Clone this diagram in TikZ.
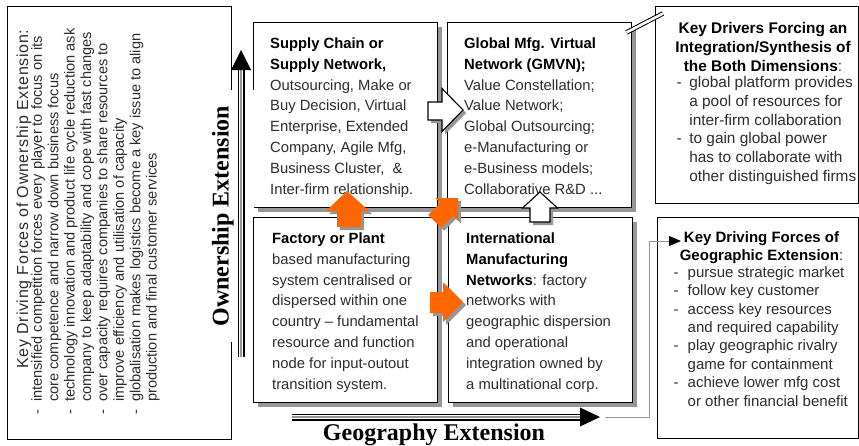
\documentclass[tikz,border=0pt]{standalone}
\usepackage{fontspec}
\setmainfont{Liberation Sans}
\newfontfamily\serifbold{Liberation Serif}
\usetikzlibrary{shadows,arrows.meta,calc}
\definecolor{orng}{RGB}{255,102,0}
\definecolor{txt}{RGB}{45,45,45}
\definecolor{shd}{RGB}{150,150,150}
\newcommand\boxhead[1]{{\color{black}\bfseries #1}}
\begin{document}
\begin{tikzpicture}[x=1pt,y=-1pt,
  mainbox/.style={draw=black, line width=1.4pt, fill=white, inner sep=0pt, anchor=north west,
    minimum width=184pt, minimum height=185pt,
    drop shadow={shadow xshift=4.5pt, shadow yshift=-4.5pt, fill=shd, opacity=1}},
  sidebox/.style={draw=black, line width=1.1pt, fill=white, inner sep=0pt, anchor=north west},
  mtext/.style={align=left, inner sep=0pt, anchor=north west, text=txt,
    font=\fontsize{14.8}{20.8}\selectfont},
  bigtitle/.style={font=\serifbold\bfseries\fontsize{24}{28}\selectfont, text=black},
  shaftblack/.style={line width=7pt, black},
  shaftwhite/.style={line width=4pt, white},
  shaftgray/.style={line width=2.2pt, shd},
  blockw/.style={draw=black, line width=1.1pt, fill=white, line join=miter},
  blocko/.style={fill=orng},
  bshadow/.style={fill=shd, shift={(3,3)}},
  link/.style={draw=shd, line width=0.8pt},
]
\fill[white] (0,0) rectangle (859,445);
\useasboundingbox (0,0) rectangle (859,445);

% ---------- left box ----------
\node[sidebox, minimum width=224pt, minimum height=433pt] (lb) at (7,6) {};
\node[rotate=90, text=txt, inner sep=0pt,
  font=\fontsize{16}{18}\selectfont\addfontfeatures{LetterSpace=4.5}] (lbt) at (24,199)
  {Key Driving Forces of Ownership Extension:};
\node[rotate=90, anchor=north west, inner sep=0pt, text=txt,
  font=\fontsize{14.6}{16.4}\selectfont] (lbb) at (30.2,415)
  {\begin{tabular}{@{}l@{\hspace{8pt}}l@{}}
   - & intensified competition forces every player to focus on its\\
     & core competence and narrow down business focus\\
   - & technology innovation and product life cycle reduction ask\\
     & company to keep adaptability and cope with fast changes\\
   - & over capacity requires companies to share resources to\\
     & improve efficiency and utilisation of capacity\\
   - & globalisation makes logistics become a key issue to align\\
     & production and final customer services
   \end{tabular}};

% ---------- top main boxes ----------
\node[mainbox] (sc) at (253,22) {};
\node[mainbox] (gm) at (447,22) {};

% ---------- ownership label (white ground hides borders) ----------
\node[rotate=90, anchor=base, bigtitle, fill=white, inner xsep=16pt, inner ysep=20.8pt] (own)
  at (228.5,216) {Ownership Extension};

% ---------- bottom main boxes ----------
\node[mainbox] (fp) at (253,217) {};
\node[mainbox] (im) at (448,217) {};

% ---------- texts of main boxes ----------
\node[mtext] (sct) at (270,37.5) {\boxhead{Supply Chain or}\\\boxhead{Supply Network,}\\
  Outsourcing, Make or\\Buy Decision, Virtual\\Enterprise, Extended\\Company, Agile Mfg,\\
  Business Cluster,~ \&\\Inter-firm relationship.};
\node[mtext] (gmt) at (464,37.5) {\boxhead{Global Mfg. Virtual}\\\boxhead{Network (GMVN);}\\
  Value Constellation;\\Value Network;\\Global Outsourcing;\\e-Manufacturing or\\
  e-Business models;\\Collaborative R\&D ...};
\node[mtext] (fpt) at (272,232.5) {\boxhead{Factory or Plant}\\based manufacturing\\
  system centralised or\\dispersed within one\\country – fundamental\\resource and function\\
  node for input-outout\\transition system.};
\node[mtext] (imt) at (466,232.5) {\boxhead{International}\\\boxhead{Manufacturing}\\
  \boxhead{Networks}: factory\\networks with\\geographic dispersion\\and operational\\
  integration owned by\\a multinational corp.};

% ---------- right boxes ----------
\node[sidebox, minimum width=203pt, minimum height=197pt] (kd) at (655,6) {};
\node[sidebox, minimum width=201pt, minimum height=221pt] (kg) at (657,217) {};

\node[anchor=north, align=center, inner sep=0pt, text=txt,
  font=\fontsize{15.4}{18.8}\selectfont] (kdt) at (763,22.2)
  {\boxhead{Key Drivers Forcing an}\\\boxhead{Integration/Synthesis of}\\\boxhead{the Both Dimensions}:};
\node[anchor=north west, inner sep=0pt, text=txt, font=\fontsize{15.4}{18.8}\selectfont] (kdl)
  at (676.5,74.2)
  {\begin{tabular}{@{}l@{\hspace{7.5pt}}l@{}}
   - & global platform provides\\
     & a pool of resources for\\
     & inter-firm collaboration\\
   - & to gain global power\\
     & has to collaborate with\\
     & other distinguished firms
   \end{tabular}};

\node[anchor=north, align=center, inner sep=0pt, text=txt,
  font=\fontsize{15}{18.4}\selectfont] (kgt) at (761.5,231.2)
  {\boxhead{Key Driving Forces of}\\\boxhead{Geographic Extension}:};
\node[anchor=north west, inner sep=0pt, text=txt, font=\fontsize{15}{18.4}\selectfont] (kgl)
  at (673.5,264.2)
  {\begin{tabular}{@{}l@{\hspace{9pt}}l@{}}
   - & pursue strategic market\\
   - & follow key customer\\
   - & access key resources\\
     & and required capability\\
   - & play geographic rivalry\\
     & game for containment\\
   - & achieve lower mfg cost\\
     & or other financial benefit
   \end{tabular}};

% ---------- break mark between GMVN box and key drivers box ----------
\coordinate (brkA) at ($(gm.north east)+(-6,10.5)$);
\coordinate (brkB) at ($(kd.north west)+(8,7.5)$);
\draw[double=white, double distance=2.6pt, line width=1pt] (brkA) -- (brkB);

% ---------- ownership arrow ----------
\coordinate (ownTail) at (241,357);
\coordinate (ownTip) at (241,50);
\draw[shaftblack] (ownTail) -- ($(ownTip)+(0,19)$);
\draw[shaftwhite] (ownTail) -- ($(ownTip)+(0,19)$);
\draw[shaftgray] (ownTail) -- ($(ownTip)+(0,19)$);
\fill[black] (ownTip) -- ++(-10,20) -- ++(20,0) -- cycle;

% ---------- geography arrow ----------
\node[bigtitle, anchor=base, inner sep=0pt] (geo) at (434,440) {Geography Extension};
\coordinate (geoTail) at (292,417);
\coordinate (geoTip) at (600,417);
\draw[shaftblack] (geoTail) -- ($(geoTip)+(-19,0)$);
\draw[shaftwhite] (geoTail) -- ($(geoTip)+(-19,0)$);
\draw[shaftgray] (geoTail) -- ($(geoTip)+(-19,0)$);
\fill[black] (geoTip) -- ++(-20,-9.5) -- ++(0,19) -- cycle;

% ---------- link to geographic forces box ----------
\coordinate (kgIn) at (681,241);
\draw[link, -{Triangle[length=12pt, width=10pt, color=black]}]
  ($(geoTip)+(5,0)$) -- (649,417) |- (kgIn);

% ---------- white block arrows ----------
\fill[bshadow] (428,102) -- (442,102) -- (442,88.5) -- (463,110) -- (442,131.5) -- (442,120) -- (428,120) -- cycle;
\draw[blockw] (428,102) -- (442,102) -- (442,88.5) -- (463,110) -- (442,131.5) -- (442,120) -- (428,120) -- cycle;
\fill[bshadow] (530,222) -- (530,208) -- (522.5,208) -- (540,192) -- (557.5,208) -- (550,208) -- (550,222) -- cycle;
\draw[blockw] (530,222) -- (530,208) -- (522.5,208) -- (540,192) -- (557.5,208) -- (550,208) -- (550,222) -- cycle;

% ---------- orange block arrows ----------
\fill[bshadow] (337,227) -- (337,211) -- (326,211) -- (347,191) -- (369,211) -- (361,211) -- (361,227) -- cycle;
\fill[blocko] (337,227) -- (337,211) -- (326,211) -- (347,191) -- (369,211) -- (361,211) -- (361,227) -- cycle;
\fill[bshadow] (458,198) -- (458,220.6) -- (453.1,215.7) -- (441.1,227.7) -- (428.3,214.9) -- (440.3,202.9) -- (435.4,198) -- cycle;
\fill[blocko] (458,198) -- (458,220.6) -- (453.1,215.7) -- (441.1,227.7) -- (428.3,214.9) -- (440.3,202.9) -- (435.4,198) -- cycle;
\fill[bshadow] (430,292) -- (443,292) -- (443,282) -- (463,302) -- (443,322) -- (443,313) -- (430,313) -- cycle;
\fill[blocko] (430,292) -- (443,292) -- (443,282) -- (463,302) -- (443,322) -- (443,313) -- (430,313) -- cycle;
\end{tikzpicture}
\end{document}
